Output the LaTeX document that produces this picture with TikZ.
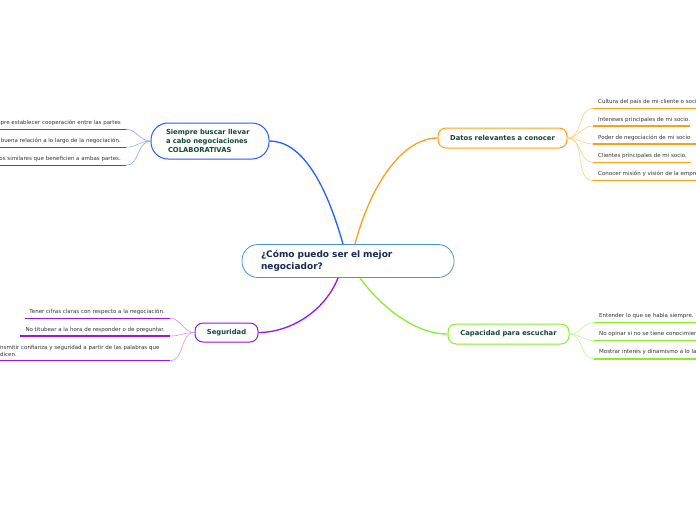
\documentclass[tikz,border=0pt]{standalone}
\usepackage{fontspec}
\setmainfont{DejaVu Sans}
\definecolor{mmblue}{RGB}{35,95,255}
\definecolor{mmbluelt}{RGB}{140,170,255}
\definecolor{mmbluedk}{RGB}{40,80,235}
\definecolor{mmorange}{RGB}{255,160,20}
\definecolor{mmorangelt}{RGB}{255,205,130}
\definecolor{mmgreen}{RGB}{135,240,40}
\definecolor{mmgreenlt}{RGB}{190,250,140}
\definecolor{mmpurple}{RGB}{150,20,240}
\definecolor{mmpurplelt}{RGB}{205,150,250}
\definecolor{mmcore}{RGB}{70,150,215}
\definecolor{mmnavy}{RGB}{25,40,80}
\definecolor{mmteal}{RGB}{20,70,55}
\definecolor{mmgray}{RGB}{50,50,50}

\begin{document}
\begin{tikzpicture}[x=1pt,y=-1pt,
  topic/.style={draw, line width=1pt, fill=white, font=\fontsize{6.8}{8.7}\selectfont\bfseries,
    text=mmteal, inner sep=0pt, align=center},
  leaf/.style={font=\fontsize{5.5}{6.4}\selectfont, text=mmgray, inner sep=0pt},
  branch/.style={line width=1.3pt},
  twig/.style={line width=0.6pt},
  uline/.style={line width=1.3pt}]

  \useasboundingbox (0,0) rectangle (696,520);

  % central question
  \node[draw=mmcore, line width=0.8pt, rounded corners=16pt, minimum width=212pt,
        minimum height=33pt, text width=174pt, inner xsep=19pt, inner ysep=0pt, align=left,
        font=\fontsize{9}{11.3}\selectfont\bfseries, text=mmnavy]
       (q) at (348,261) {¿Cómo puedo ser el mejor\\negociador?};

  % main topics
  \node[topic, draw=mmblue, rounded corners=17pt, minimum width=118pt, minimum height=36pt,
        text width=88pt, inner xsep=15pt, align=left]
       (colab) at (210,141) {Siempre buscar llevar\\a cabo negociaciones\\\hspace*{2pt}COLABORATIVAS};
  \node[topic, draw=mmorange, rounded corners=8pt, minimum width=129pt, minimum height=20pt]
       (datos) at (502.5,138) {Datos relevantes a conocer};
  \node[topic, draw=mmgreen, rounded corners=8pt, minimum width=121pt, minimum height=20pt]
       (escucha) at (508.5,334) {Capacidad para escuchar};
  \node[topic, draw=mmpurple, rounded corners=8pt, minimum width=63pt, minimum height=19pt]
       (segur) at (226.5,332.5) {Seguridad};

  % branches from the question
  \draw[branch, mmblue]   ([xshift=-5pt]q.north) .. controls +(-18,-64) and +(31,0) .. (colab.east);
  \draw[branch, mmorange] ([xshift=7pt]q.north) .. controls +(17,-64) and +(-33,0) .. (datos.west);
  \draw[branch, mmpurple] ([xshift=-10pt]q.south) .. controls +(-13,33) and +(32,0) .. (segur.east);
  \draw[branch, mmgreen]  ([xshift=12pt]q.south) .. controls +(20,28) and +(-33,0) .. (escucha.west);

  % colaborativas
  \node[leaf, anchor=east] (c1) at (121,123) {mpre establecer cooperación entre las partes};
  \node[leaf, anchor=east] (c2) at (121,141) {buena relación a lo largo de la negociación.};
  \node[leaf, anchor=east] (c3) at (121,159) {os similares que beneficien a ambas partes.};
  \coordinate (cu1) at (126,129.3);
  \coordinate (cu2) at (126,147.3);
  \coordinate (cu3) at (126,165.3);
  \foreach \u in {cu1,cu2,cu3} {
    \draw[uline, mmbluedk] (\u) -- ++(-126,0);
    \draw[twig, mmbluelt] (colab.west) to[out=180,in=0] (\u);
  }

  % datos relevantes
  \node[leaf, anchor=west] (d1) at (598,101.7) {Cultura del país de mi cliente o soci};
  \node[leaf, anchor=west] (d2) at (598,119.7) {Intereses principales de mi socio.};
  \node[leaf, anchor=west] (d3) at (598,137.7) {Poder de negociación de mi socio};
  \node[leaf, anchor=west] (d4) at (598,156) {Clientes principales de mi socio.};
  \node[leaf, anchor=west] (d5) at (598,174) {Conocer misión y visión de la empre};
  \coordinate (du1) at (593,108.3);
  \coordinate (du2) at (593,126);
  \coordinate (du3) at (593,144);
  \coordinate (du4) at (593,162.3);
  \coordinate (du5) at (593,180.5);
  \draw[uline, mmorange] (du1) -- ++(103,0);
  \draw[uline, mmorange] (du2) -- ++(97,0);
  \draw[uline, mmorange] (du3) -- ++(103,0);
  \draw[uline, mmorange] (du4) -- ++(98,0);
  \draw[uline, mmorange] (du5) -- ++(103,0);
  \foreach \u in {du1,du2,du3,du4,du5}
    \draw[twig, mmorangelt] (datos.east) to[out=0,in=180] (\u);

  % capacidad para escuchar
  \node[leaf, anchor=west] (e1) at (599,315.7) {Entender lo que se habla siempre.};
  \node[leaf, anchor=west] (e2) at (599,334) {No opinar si no se tiene conocimier};
  \node[leaf, anchor=west] (e3) at (599,352.3) {Mostrar interés y dinamismo a lo la};
  \coordinate (eu1) at (594,322.7);
  \coordinate (eu2) at (594,340.7);
  \coordinate (eu3) at (594,359);
  \foreach \u in {eu1,eu2,eu3} {
    \draw[uline, mmgreen] (\u) -- ++(102,0);
    \draw[twig, mmgreenlt] (escucha.east) to[out=0,in=180] (\u);
  }

  % seguridad
  \node[leaf, anchor=east] (s1) at (165,312) {Tener cifras claras con respecto a la negociación.};
  \node[leaf, anchor=east] (s2) at (165,330) {No titubear a la hora de responder o de preguntar.};
  \node[leaf, anchor=west, align=left] (s3) at (0,351) {nsmitir confianza y seguridad a partir de las palabras que\\dicen.};
  \coordinate (su1) at (170,318.3);
  \coordinate (su2) at (170,336);
  \coordinate (su3) at (170,360.7);
  \draw[uline, mmpurple] (su1) -- (25,318.3);
  \draw[uline, mmpurple] (su2) -- (20,336);
  \draw[uline, mmpurple] (su3) -- (0,360.7);
  \foreach \u in {su1,su2,su3}
    \draw[twig, mmpurplelt] (segur.west) to[out=180,in=0] (\u);
\end{tikzpicture}
\end{document}
